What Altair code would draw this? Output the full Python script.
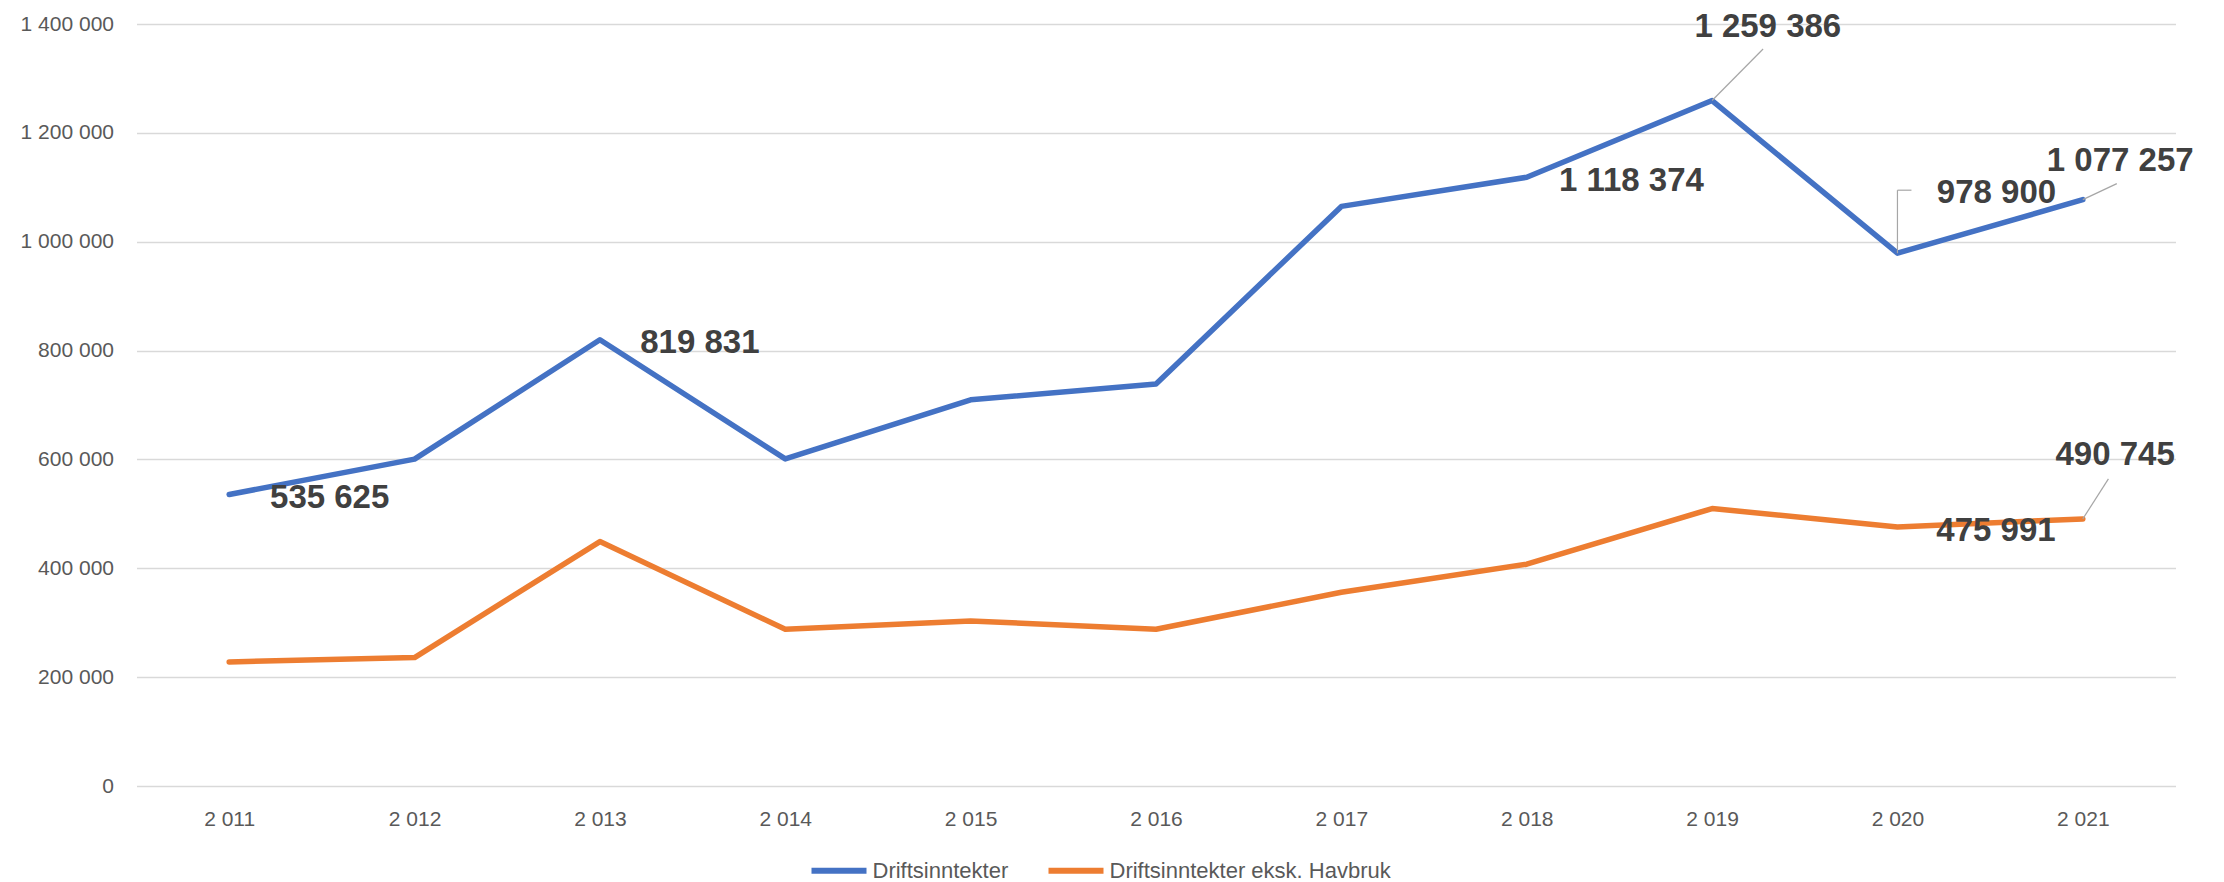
import altair as alt
import pandas as pd

# ---- data ----
years = ["2 011", "2 012", "2 013", "2 014", "2 015", "2 016",
         "2 017", "2 018", "2 019", "2 020", "2 021"]
driftsinntekter = [535625, 600500, 819831, 601000, 709500, 738400,
                   1064900, 1118374, 1259386, 978900, 1077257]
eksk_havbruk = [227900, 235900, 449100, 288000, 303300, 288000,
                356000, 407500, 509800, 475991, 490745]
series_names = ["Driftsinntekter", "Driftsinntekter eksk. Havbruk"]
series_colors = ["#4472C4", "#ED7D31"]
y_ticks = [0, 200000, 400000, 600000, 800000, 1000000, 1200000, 1400000]

rows = []
for s, vals in zip(series_names, [driftsinntekter, eksk_havbruk]):
    for yr, v in zip(years, vals):
        rows.append({"year": yr, "series": s, "value": v,
                     "label": f"{v:,}".replace(",", " ")})
df = pd.DataFrame(rows)

FONT = "Liberation Sans"
W, H = 2039, 762

x_enc = alt.X("year:N", sort=years,
              scale=alt.Scale(type="point", padding=0.5),
              axis=alt.Axis(title=None, labelAngle=0, domain=False, ticks=False,
                            grid=False, labelPadding=22, labelFontSize=21,
                            labelColor="#595959", labelFont=FONT))
y_enc = alt.Y("value:Q", scale=alt.Scale(domain=[0, 1400000], nice=False, zero=True),
              axis=alt.Axis(title=None, values=y_ticks,
                            labelExpr="replace(format(datum.value, ','), regexp(',', 'g'), ' ')",
                            domain=False, ticks=False, tickSize=0, labelPadding=23,
                            labelFontSize=21, labelColor="#595959", labelFont=FONT,
                            gridColor="#D9D9D9", gridWidth=1.3))

base = alt.Chart(df)

lines = base.mark_line(strokeWidth=5.5, strokeJoin="round", strokeCap="round").encode(
    x=x_enc, y=y_enc,
    color=alt.Color("series:N",
                    scale=alt.Scale(domain=series_names, range=series_colors),
                    legend=alt.Legend(title=None, orient="none", direction="horizontal",
                                      legendX=672, legendY=816,
                                      symbolType="stroke", symbolSize=3025,
                                      symbolStrokeWidth=6, labelFontSize=22,
                                      labelFont=FONT, labelColor="#595959",
                                      labelOffset=3, columnPadding=28, padding=0,
                                      labelLimit=500)),
)

# data labels: (series index, year, dx, dy)
label_specs = [
    (0, "2 011", 100.5, 4),
    (0, "2 013", 100, 3.5),
    (0, "2 018", 104.7, 4),
    (0, "2 019", 55.7, -74),
    (0, "2 020", 99, -60),
    (0, "2 021", 37.4, -39),
    (1, "2 020", 98.5, 4),
    (1, "2 021", 32.3, -64),
]
# leader lines: (series index, year, xOffset, yOffset, x2Offset, y2Offset)
leader_specs = [
    (0, "2 019", 0, 0, 51, -51.5),
    (0, "2 020", 0, 0, 0, -63),
    (0, "2 020", 0, -63, 14, -63),
    (0, "2 021", 0, 0, 34, -16),
    (1, "2 021", 0, 0, 25.6, -40),
]

layers = [lines]
for si, yr, xo, yo, x2o, y2o in leader_specs:
    layers.append(
        base.transform_filter((alt.datum.series == series_names[si]) & (alt.datum.year == yr))
        .mark_rule(color="#A6A6A6", strokeWidth=1.2, xOffset=xo, yOffset=yo,
                   x2Offset=x2o, y2Offset=y2o)
        .encode(x=x_enc, y=y_enc, x2=alt.X2("year"), y2=alt.Y2("value"))
    )
for si, yr, dx, dy in label_specs:
    layers.append(
        base.transform_filter((alt.datum.series == series_names[si]) & (alt.datum.year == yr))
        .mark_text(font=FONT, fontSize=33, fontWeight="bold", color="#404040",
                   align="center", baseline="middle", dx=dx, dy=dy)
        .encode(x=x_enc, y=y_enc, text="label:N")
    )

chart = alt.layer(*layers).properties(
    width=W, height=H,
    autosize=alt.AutoSizeParams(type="none"),
    padding={"left": 128.5, "top": 16, "right": 40.5, "bottom": 104},
).configure(font=FONT).configure_view(stroke=None)

chart.save("out.html", embed_options={"renderer": "svg", "actions": False})
